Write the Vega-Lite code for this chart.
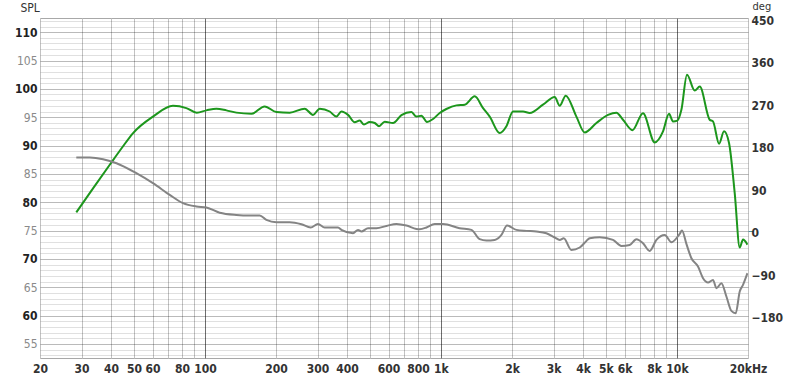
{
  "$schema": "https://vega.github.io/schema/vega-lite/v6.json",
  "width": 708,
  "height": 340,
  "autosize": "none",
  "padding": {"left": 40, "top": 18, "right": 52, "bottom": 25},
  "background": "white",
  "config": {
    "view": {"stroke": "#a8a8a8", "strokeWidth": 1},
    "axis": {
      "labelFont": "DejaVu Sans Condensed",
      "titleFont": "DejaVu Sans Condensed",
      "labelFontSize": 12,
      "titleFontSize": 12,
      "domain": false,
      "ticks": false,
      "labelOverlap": false,
      "labelBound": false
    }
  },
  "datasets": {
    "spl": [
      {"f": 28.5, "spl": 78.2}, {"f": 33.5, "spl": 82.4}, {"f": 39.5, "spl": 86.6}, {"f": 44.5, "spl": 89.6}, {"f": 49.6, "spl": 92.2},
      {"f": 60.2, "spl": 95.1}, {"f": 73.2, "spl": 97.0}, {"f": 83.4, "spl": 96.6}, {"f": 92.3, "spl": 95.8},
      {"f": 101.4, "spl": 96.2}, {"f": 111.8, "spl": 96.5}, {"f": 123.3, "spl": 96.2}, {"f": 135.9, "spl": 95.8},
      {"f": 157.3, "spl": 95.6}, {"f": 179.1, "spl": 96.9}, {"f": 200.8, "spl": 95.9}, {"f": 228.6, "spl": 95.8},
      {"f": 264.6, "spl": 96.5}, {"f": 287, "spl": 95.4}, {"f": 306.4, "spl": 96.5}, {"f": 337.8, "spl": 96.0},
      {"f": 360.6, "spl": 95.1}, {"f": 378.6, "spl": 96.0}, {"f": 403.8, "spl": 95.4}, {"f": 431, "spl": 94.1},
      {"f": 452.6, "spl": 94.4}, {"f": 472, "spl": 93.7}, {"f": 498.9, "spl": 94.15}, {"f": 523.9, "spl": 93.97},
      {"f": 546.4, "spl": 93.4}, {"f": 577.7, "spl": 94.2}, {"f": 626.3, "spl": 93.97}, {"f": 679.9, "spl": 95.35},
      {"f": 749.6, "spl": 95.9}, {"f": 786.9, "spl": 95.1}, {"f": 826.3, "spl": 95.26}, {"f": 872.6, "spl": 94.15},
      {"f": 925.4, "spl": 94.68}, {"f": 987.9, "spl": 95.74}, {"f": 1054, "spl": 96.44}, {"f": 1163, "spl": 97.08},
      {"f": 1261, "spl": 97.2}, {"f": 1390, "spl": 98.67}, {"f": 1508, "spl": 96.6}, {"f": 1609, "spl": 95.1},
      {"f": 1774, "spl": 92.2}, {"f": 1894, "spl": 93.4}, {"f": 2020, "spl": 96.0}, {"f": 2227, "spl": 96.0},
      {"f": 2377, "spl": 95.74}, {"f": 2706, "spl": 97.2}, {"f": 3034, "spl": 98.56}, {"f": 3186, "spl": 97.0},
      {"f": 3378, "spl": 98.8}, {"f": 3749, "spl": 95.1}, {"f": 4066, "spl": 92.3}, {"f": 4557, "spl": 93.97},
      {"f": 5104, "spl": 95.4}, {"f": 5539, "spl": 95.8}, {"f": 5907, "spl": 94.55}, {"f": 6476, "spl": 92.7},
      {"f": 7179, "spl": 95.7}, {"f": 8050, "spl": 90.55}, {"f": 8729, "spl": 92.5}, {"f": 9254, "spl": 95.6},
      {"f": 9622, "spl": 94.25}, {"f": 10044, "spl": 94.4}, {"f": 10442, "spl": 96.3}, {"f": 11030, "spl": 102.5},
      {"f": 11890, "spl": 99.7}, {"f": 12490, "spl": 100.4}, {"f": 13760, "spl": 94.55}, {"f": 14213, "spl": 94.25},
      {"f": 15080, "spl": 90.3}, {"f": 15830, "spl": 92.5}, {"f": 16620, "spl": 90.44}, {"f": 17570, "spl": 81.6},
      {"f": 18450, "spl": 72.0}, {"f": 19050, "spl": 73.4}, {"f": 19890, "spl": 72.5}
    ],
    "phase": [
      {"f": 28.5, "deg": 154.6}, {"f": 32.5, "deg": 154.6}, {"f": 37.0, "deg": 151}, {"f": 42.2, "deg": 142.5},
      {"f": 51.2, "deg": 121.3}, {"f": 60.2, "deg": 100.2}, {"f": 70.9, "deg": 75.4}, {"f": 80.7, "deg": 57.8},
      {"f": 92.0, "deg": 50.8}, {"f": 101.4, "deg": 48.7}, {"f": 115.5, "deg": 37.7}, {"f": 135.9, "deg": 33.0},
      {"f": 154.7, "deg": 31.8}, {"f": 170.6, "deg": 31.8}, {"f": 182.1, "deg": 22.4}, {"f": 200.8, "deg": 17.6},
      {"f": 228.6, "deg": 17.6}, {"f": 256.3, "deg": 13.3}, {"f": 280.6, "deg": 6.4}, {"f": 301.3, "deg": 13.8},
      {"f": 321.6, "deg": 6.4}, {"f": 366.3, "deg": 6.4}, {"f": 378.6, "deg": 1.3}, {"f": 424, "deg": -5.7},
      {"f": 445.2, "deg": 1.3}, {"f": 460.2, "deg": -2.1}, {"f": 490.9, "deg": 4.9}, {"f": 532.6, "deg": 4.9},
      {"f": 587.4, "deg": 9.7}, {"f": 647.6, "deg": 14}, {"f": 714, "deg": 10.6}, {"f": 786.9, "deg": 3.4},
      {"f": 812.8, "deg": 2.8}, {"f": 867.7, "deg": 6.4}, {"f": 940.8, "deg": 14}, {"f": 1020, "deg": 14},
      {"f": 1200, "deg": 4.9}, {"f": 1346, "deg": 1.3}, {"f": 1459, "deg": -18.4}, {"f": 1558, "deg": -21.2},
      {"f": 1689, "deg": -19.9}, {"f": 1804, "deg": -9.3}, {"f": 1905, "deg": 10.6}, {"f": 2088, "deg": 1.3},
      {"f": 2301, "deg": -0.8}, {"f": 2538, "deg": -2.1}, {"f": 2798, "deg": -5.7}, {"f": 3034, "deg": -14.8},
      {"f": 3186, "deg": -19.9}, {"f": 3313, "deg": -16.3}, {"f": 3570, "deg": -41.1}, {"f": 3872, "deg": -36},
      {"f": 4134, "deg": -22}, {"f": 4268, "deg": -16.3}, {"f": 4706, "deg": -14.2}, {"f": 5358, "deg": -19.9},
      {"f": 5815, "deg": -32.6}, {"f": 6306, "deg": -30.5}, {"f": 6733, "deg": -18.4}, {"f": 7179, "deg": -26.9},
      {"f": 7664, "deg": -43.2}, {"f": 8183, "deg": -19.9}, {"f": 8874, "deg": -9.3}, {"f": 9471, "deg": -24.8},
      {"f": 10270, "deg": -7.2}, {"f": 10504, "deg": 0}, {"f": 10965, "deg": -28.4}, {"f": 11514, "deg": -58.7},
      {"f": 12283, "deg": -76.2}, {"f": 12898, "deg": -101}, {"f": 13540, "deg": -110.1}, {"f": 14213, "deg": -104.6},
      {"f": 14700, "deg": -122.2}, {"f": 15430, "deg": -111.6}, {"f": 16200, "deg": -139.8}, {"f": 17010, "deg": -170.3},
      {"f": 17740, "deg": -175.1}, {"f": 18450, "deg": -129.2}, {"f": 19050, "deg": -115.2}, {"f": 19890, "deg": -90.4}
    ]
  },
  "encoding": {
    "x": {
      "field": "f", "type": "quantitative",
      "scale": {"type": "log", "domain": [20, 20000], "nice": false},
      "axis": {
        "title": null,
        "orient": "bottom",
        "values": [20,30,40,50,60,70,80,90,100,200,300,400,500,600,700,800,900,1000,2000,3000,4000,5000,6000,7000,8000,9000,10000,20000],
        "labelExpr": "datum.value == 20000 ? '20kHz' : indexof([20,30,40,50,60,80,100,200,300,400,600,800], datum.value) >= 0 ? '' + datum.value : indexof([1000,2000,3000,4000,5000,6000,8000,10000], datum.value) >= 0 ? (datum.value / 1000) + 'k' : ''",
        "labelFlush": false,
        "labelPadding": 5,
        "labelFontWeight": "bold",
        "labelColor": "#333333",
        "grid": true,
        "gridColor": {"condition": {"test": "datum.value == 100 || datum.value == 1000 || datum.value == 10000", "value": "#6e6e6e"}, "value": "#c2c2c2"},
        "gridWidth": 1
      }
    }
  },
  "layer": [
    {
      "data": {"name": "spl"},
      "mark": {"type": "line", "color": "#1c961c", "strokeWidth": 2, "clip": true, "interpolate": "monotone"},
      "encoding": {
        "y": {
          "field": "spl", "type": "quantitative",
          "scale": {"domain": [52.5, 112.5], "nice": false, "zero": false},
          "axis": {
            "orient": "left",
            "title": "SPL",
            "titleAngle": 0,
            "titleAlign": "left",
            "titleBaseline": "top",
            "titleX": -20,
            "titleY": -16,
            "titleFontWeight": "normal",
            "titleColor": "#333333",
            "values": [53,54,55,56,57,58,59,60,61,62,63,64,65,66,67,68,69,70,71,72,73,74,75,76,77,78,79,80,81,82,83,84,85,86,87,88,89,90,91,92,93,94,95,96,97,98,99,100,101,102,103,104,105,106,107,108,109,110,111,112],
            "labelExpr": "datum.value % 5 == 0 && datum.value >= 55 && datum.value <= 110 ? datum.label : ''",
            "labelPadding": 3,
            "labelColor": {"condition": {"test": "datum.value % 10 == 0", "value": "#222222"}, "value": "#8a8a8a"},
            "labelFontWeight": {"condition": {"test": "datum.value % 10 == 0", "value": "bold"}, "value": "normal"},
            "grid": true,
            "gridColor": {"condition": {"test": "datum.value % 5 == 0", "value": "rgba(0,0,0,0.27)"}, "value": "rgba(0,0,0,0.12)"},
            "gridWidth": 1
          }
        }
      }
    },
    {
      "data": {"name": "phase"},
      "mark": {"type": "line", "color": "#848484", "strokeWidth": 2, "clip": true, "interpolate": "monotone"},
      "encoding": {
        "y": {
          "field": "deg", "type": "quantitative",
          "scale": {"domain": [-270, 450], "nice": false, "zero": false},
          "axis": {
            "orient": "right",
            "title": "deg",
            "titleAngle": 0,
            "titleAlign": "left",
            "titleBaseline": "top",
            "titleX": 4,
            "titleY": -18,
            "titleFontSize": 11,
            "titleFontWeight": "normal",
            "titleColor": "#333333",
            "values": [-180, -90, 0, 90, 180, 270, 360, 450],
            "ticks": true,
            "tickSize": 5,
            "tickOffset": 0,
            "tickColor": {"condition": {"test": "datum.value == 0", "value": "#4f8f9c"}, "value": "transparent"},
            "labelPadding": -2,
            "labelOffset": 2,
            "labelFontWeight": "bold",
            "labelColor": "#333333",
            "grid": false
          }
        }
      }
    }
  ],
  "resolve": {"scale": {"y": "independent"}}
}
